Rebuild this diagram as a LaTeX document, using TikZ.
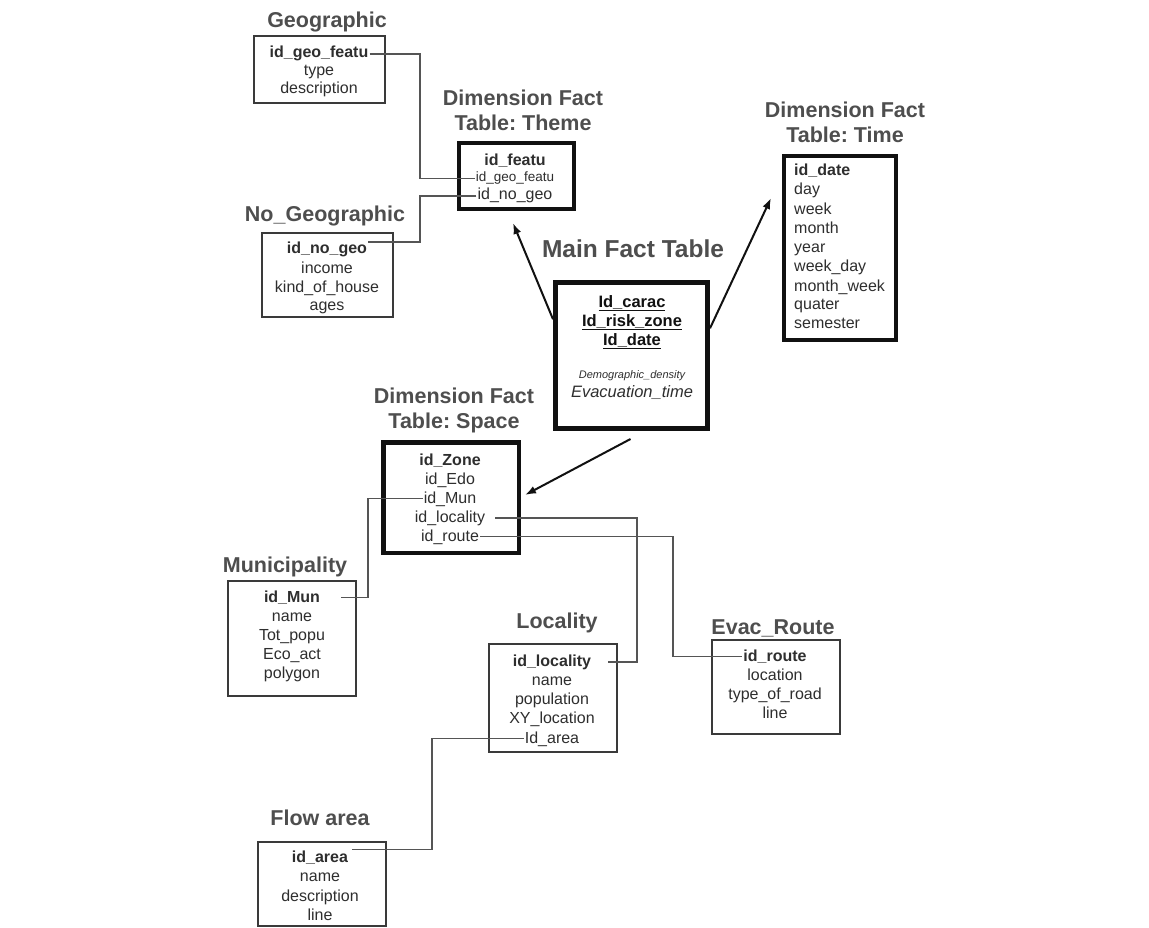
\documentclass[tikz,border=0pt]{standalone}
\usepackage{fontspec}
\setmainfont{Liberation Sans}
\usetikzlibrary{arrows.meta,calc}
\frenchspacing

\definecolor{titlec}{HTML}{4E4E4E}
\definecolor{fieldc}{HTML}{2E2E2E}
\definecolor{linec}{HTML}{555555}
\definecolor{boxc}{HTML}{3A3A3A}
\definecolor{heavyc}{HTML}{111111}

\tikzset{
  tbl/.style n args={2}{draw=boxc, line width=1.6pt, inner sep=0pt,
    minimum width=#1, minimum height=#2},
  heavytbl/.style n args={3}{draw=heavyc, line width=#3, inner sep=0pt,
    minimum width=#1, minimum height=#2},
  ttl/.style={font=\fontsize{21.5}{25}\selectfont\bfseries, text=titlec,
    inner sep=0pt, anchor=base},
  ttltwo/.style={font=\fontsize{21.5}{25}\selectfont\bfseries, text=titlec,
    inner sep=0pt, anchor=north, align=center},
  fld/.style={font=\fontsize{16}{19}\selectfont, text=fieldc,
    inner ysep=0pt, inner xsep=1pt, anchor=base},
  key/.style={fld, font=\fontsize{16}{19}\selectfont\bfseries},
  small/.style={fld, font=\fontsize{13.5}{16}\selectfont},
  pk/.style={fld, font=\fontsize{16.5}{19}\selectfont\bfseries, text=heavyc},
  conn/.style={draw=linec, line width=1.3pt},
  link/.style={draw=heavyc, line width=2pt,
    -{Latex[length=11pt,width=8pt]}},
}

\begin{document}
\begin{tikzpicture}[x=1pt,y=-1pt]
\fill[white] (0,0) rectangle (1149,928);
\useasboundingbox (0,0) rectangle (1149,928);

% ---------- Geographic ----------
\node[ttl] (geoT) at (327,28) {Geographic};
\node[tbl={131.4}{67.4}] (geo) at (319.5,69.5) {};
\node[key] (gid) at (319,58) {id\_geo\_featu};
\node[fld] (gtype) at (319,76) {type};
\node[fld] (gdesc) at (319,94) {description};

% ---------- No_Geographic ----------
\node[ttl] (ngT) at (325,222) {No\_Geographic};
\node[tbl={131.4}{84.4}] (nogeo) at (327.5,275) {};
\node[key] (ngid) at (327,254) {id\_no\_geo};
\node[fld] (ngin) at (327,273) {income};
\node[fld] (ngkind) at (327,292) {kind\_of\_house};
\node[fld] (ngage) at (327,310) {ages};

% ---------- Dimension Fact Table: Theme ----------
\node[ttltwo] (thT) at (523,89.5) {Dimension Fact\\Table: Theme};
\node[heavytbl={115}{66}{4pt}] (theme) at (516.5,176) {};
\node[key] (tfid) at (515,166) {id\_featu};
\node[small] (tgeo) at (515,182) {id\_geo\_featu};
\node[fld] (tnogeo) at (515,200) {id\_no\_geo};

% ---------- Main Fact Table ----------
\node[ttl, font=\fontsize{24.5}{28}\selectfont\bfseries] (mainT) at (633,258) {Main Fact Table};
\node[heavytbl={152}{146}{5pt}] (main) at (631.5,355.5) {};
\node[pk] (mcar) at (632,307) {\underline{Id\_carac}};
\node[pk] (mrisk) at (632,326) {\underline{Id\_risk\_zone}};
\node[pk] (mdate) at (632,345) {\underline{Id\_date}};
\node[fld, font=\fontsize{11}{13}\selectfont\itshape] (mdens) at (632,378) {Demographic\_density};
\node[fld, font=\fontsize{16.5}{19}\selectfont\itshape] (mevac) at (632,397) {Evacuation\_time};

% ---------- Dimension Fact Table: Time ----------
\node[ttltwo] (tiT) at (845,101.5) {Dimension Fact\\Table: Time};
\node[heavytbl={112}{184}{4pt}] (time) at (840,248) {};
\node[key, anchor=base west] (tid) at (793,176) {id\_date};
\node[fld, anchor=base west] (tday) at (793,195) {day};
\node[fld, anchor=base west] (tweek) at (793,215) {week};
\node[fld, anchor=base west] (tmonth) at (793,234) {month};
\node[fld, anchor=base west] (tyear) at (793,253) {year};
\node[fld, anchor=base west] (twd) at (793,272) {week\_day};
\node[fld, anchor=base west] (tmw) at (793,291) {month\_week};
\node[fld, anchor=base west] (tq) at (793,309) {quater};
\node[fld, anchor=base west] (tsem) at (793,328) {semester};

% ---------- Dimension Fact Table: Space ----------
\node[ttltwo] (spT) at (454,387.5) {Dimension Fact\\Table: Space};
\node[heavytbl={135.5}{110.5}{4.5pt}] (space) at (451,497.5) {};
\node[key] (szone) at (450,465) {id\_Zone};
\node[fld] (sedo) at (450,484) {id\_Edo};
\node[fld] (smun) at (450,503) {id\_Mun};
\node[fld] (sloc) at (450,522) {id\_locality};
\node[fld] (sroute) at (450,541) {id\_route};

% ---------- Municipality ----------
\node[ttl] (muT) at (285,572) {Municipality};
\node[tbl={128.4}{115.4}] (mun) at (292,638.5) {};
\node[key] (munid) at (292,602) {id\_Mun};
\node[fld] (muname) at (292,621) {name};
\node[fld] (mupop) at (292,640) {Tot\_popu};
\node[fld] (mueco) at (292,659) {Eco\_act};
\node[fld] (mupoly) at (292,678) {polygon};

% ---------- Locality ----------
\node[ttl] (loT) at (557,628) {Locality};
\node[tbl={128.4}{108.4}] (loc) at (553,698) {};
\node[key] (locid) at (552,666) {id\_locality};
\node[fld] (loname) at (552,685) {name};
\node[fld] (lopop) at (552,704) {population};
\node[fld] (loxy) at (552,723) {XY\_location};
\node[fld] (larea) at (552,743) {Id\_area};

% ---------- Evac_Route ----------
\node[ttl] (evT) at (773,634) {Evac\_Route};
\node[tbl={128.4}{94.4}] (evac) at (776,687) {};
\node[key] (evid) at (775,661) {id\_route};
\node[fld] (evloc) at (775,680) {location};
\node[fld] (evtype) at (775,699) {type\_of\_road};
\node[fld] (evline) at (775,718) {line};

% ---------- Flow area ----------
\node[ttl] (flT) at (320,825) {Flow area};
\node[tbl={128.4}{84.4}] (flow) at (322,884) {};
\node[key] (flid) at (320,862) {id\_area};
\node[fld] (flname) at (320,881) {name};
\node[fld] (fldesc) at (320,901) {description};
\node[fld] (flline) at (320,920) {line};

% ---------- key links between tables ----------
\draw[conn] (gid.east) -| (420,120) |- (tgeo.west);
\draw[conn] (tnogeo.west) -| (420,220) |- ([yshift=8pt]ngid.east);
\draw[conn] (smun.west) -| (368,550) |- ([xshift=20pt]munid.east);
\draw[conn] ([xshift=9pt]sloc.east) -| (637,600) |- ([xshift=16pt]locid.east);
\draw[conn] (sroute.east) -| (673,600) |- (evid.west);
\draw[conn] (larea.west) -| (432,800) |- ([yshift=8pt,xshift=3pt]flid.east);

% ---------- fact table to dimension tables ----------
\draw[link] ($(main.north west)!0.26!(main.south west)$) -- ($(theme.south)+(-3.5,12)$);
\draw[link] ($(main.north east)!0.32!(main.south east)$) -- ($(time.west)+(-11,-50)$);
\draw[link] ($(main.south)+(-1,8)$) -- ($(space.east)+(4,-2.5)$);
\end{tikzpicture}
\end{document}
